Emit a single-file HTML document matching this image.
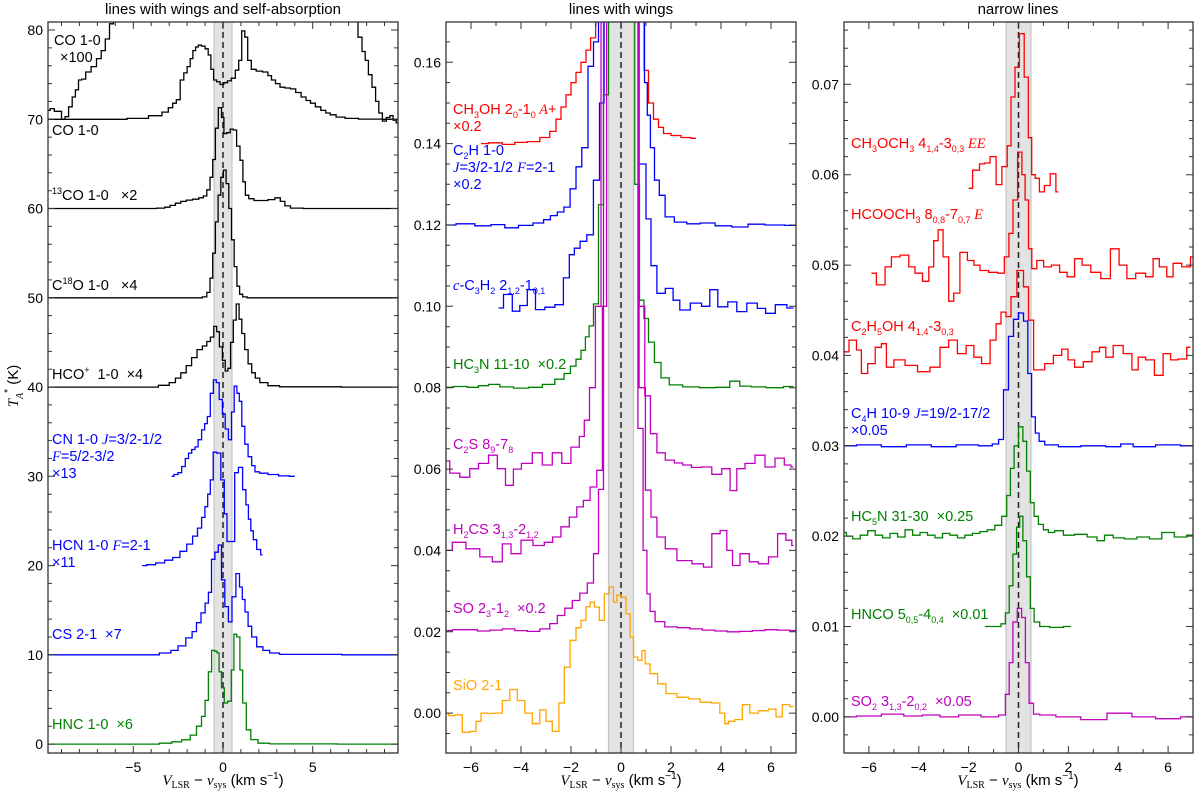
<!DOCTYPE html>
<html><head><meta charset="utf-8">
<style>
html,body{margin:0;padding:0;background:#fff;}
svg{display:block;font-family:"Liberation Sans","DejaVu Sans",sans-serif;}
#labels text{white-space:pre;}
</style></head>
<body>
<svg id="fig" width="1200" height="798" viewBox="0 0 1200 798" xmlns="http://www.w3.org/2000/svg">
<g id="layer"></g>
<g id="labels" font-size="14.5">
  <text x="223" y="14" text-anchor="middle" font-size="15" fill="#000">lines with wings and self-absorption</text>
  <text x="621" y="14" text-anchor="middle" font-size="15" fill="#000">lines with wings</text>
  <text x="1018" y="14" text-anchor="middle" font-size="15" fill="#000">narrow lines</text>

  <text transform="translate(18,386) rotate(-90)" text-anchor="middle" font-size="15"><tspan font-family="Liberation Serif,serif" font-style="italic">T</tspan><tspan font-size="10" dy="5" font-family="Liberation Serif,serif" font-style="italic">A</tspan><tspan font-size="10" dy="-12">*</tspan><tspan dy="7"> (K)</tspan></text>

  <g><text x="223" y="785" text-anchor="middle" font-size="15"><tspan font-family="Liberation Serif,serif" font-style="italic">V</tspan><tspan font-size="10" dy="3" font-family="Liberation Serif,serif">LSR</tspan><tspan dy="-3"> − </tspan><tspan font-family="Liberation Serif,serif" font-style="italic">v</tspan><tspan font-size="10" dy="3" font-family="Liberation Serif,serif">sys</tspan><tspan dy="-3"> (km s</tspan><tspan font-size="10" dy="-6">−1</tspan><tspan dy="6">)</tspan></text></g>
  <g><text x="621" y="785" text-anchor="middle" font-size="15"><tspan font-family="Liberation Serif,serif" font-style="italic">V</tspan><tspan font-size="10" dy="3" font-family="Liberation Serif,serif">LSR</tspan><tspan dy="-3"> − </tspan><tspan font-family="Liberation Serif,serif" font-style="italic">v</tspan><tspan font-size="10" dy="3" font-family="Liberation Serif,serif">sys</tspan><tspan dy="-3"> (km s</tspan><tspan font-size="10" dy="-6">−1</tspan><tspan dy="6">)</tspan></text></g>
  <g><text x="1018" y="785" text-anchor="middle" font-size="15"><tspan font-family="Liberation Serif,serif" font-style="italic">V</tspan><tspan font-size="10" dy="3" font-family="Liberation Serif,serif">LSR</tspan><tspan dy="-3"> − </tspan><tspan font-family="Liberation Serif,serif" font-style="italic">v</tspan><tspan font-size="10" dy="3" font-family="Liberation Serif,serif">sys</tspan><tspan dy="-3"> (km s</tspan><tspan font-size="10" dy="-6">−1</tspan><tspan dy="6">)</tspan></text></g>

  <g fill="#000">
    <text x="54" y="45">CO 1-0</text>
    <text x="60" y="62">×100</text>
    <text x="52" y="135">CO 1-0</text>
    <text x="52" y="200"><tspan font-size="9" dy="-6">13</tspan><tspan dy="6">CO 1-0   ×2</tspan></text>
    <text x="52" y="290">C<tspan font-size="9" dy="-6">18</tspan><tspan dy="6">O 1-0   ×4</tspan></text>
    <text x="52" y="379">HCO<tspan font-size="9" dy="-6">+</tspan><tspan dy="6">  1-0  ×4</tspan></text>
  </g>
  <g fill="#0000ff">
    <text x="52" y="444">CN 1-0 <tspan font-family="Liberation Serif,serif" font-style="italic">J</tspan>=3/2-1/2</text>
    <text x="52" y="461"><tspan font-family="Liberation Serif,serif" font-style="italic">F</tspan>=5/2-3/2</text>
    <text x="52" y="478">×13</text>
    <text x="52" y="550">HCN 1-0 <tspan font-family="Liberation Serif,serif" font-style="italic">F</tspan>=2-1</text>
    <text x="52" y="567">×11</text>
    <text x="52" y="639">CS 2-1  ×7</text>
  </g>
  <text x="52" y="729" fill="#008000">HNC 1-0  ×6</text>

  <g fill="#ff0000">
    <text x="453" y="114">CH<tspan font-size="9" dy="4">3</tspan><tspan dy="-4">OH 2</tspan><tspan font-size="9" dy="4">0</tspan><tspan dy="-4">-1</tspan><tspan font-size="9" dy="4">0</tspan><tspan dy="-4" font-family="Liberation Serif,serif" font-style="italic"> A</tspan><tspan>+</tspan></text>
    <text x="453" y="131">×0.2</text>
  </g>
  <g fill="#0000ff">
    <text x="453" y="155">C<tspan font-size="9" dy="4">2</tspan><tspan dy="-4">H 1-0</tspan></text>
    <text x="453" y="172"><tspan font-family="Liberation Serif,serif" font-style="italic">J</tspan>=3/2-1/2 <tspan font-family="Liberation Serif,serif" font-style="italic">F</tspan>=2-1</text>
    <text x="453" y="189">×0.2</text>
    <text x="453" y="290"><tspan font-family="Liberation Serif,serif" font-style="italic">c</tspan>-C<tspan font-size="9" dy="4">3</tspan><tspan dy="-4">H</tspan><tspan font-size="9" dy="4">2</tspan><tspan dy="-4"> 2</tspan><tspan font-size="9" dy="4">1,2</tspan><tspan dy="-4">-1</tspan><tspan font-size="9" dy="4">0,1</tspan></text>
  </g>
  <text x="453" y="369" fill="#008000">HC<tspan font-size="9" dy="4">3</tspan><tspan dy="-4">N 11-10  ×0.2</tspan></text>
  <g fill="#bf00bf">
    <text x="453" y="449">C<tspan font-size="9" dy="4">2</tspan><tspan dy="-4">S 8</tspan><tspan font-size="9" dy="4">9</tspan><tspan dy="-4">-7</tspan><tspan font-size="9" dy="4">8</tspan></text>
    <text x="453" y="534">H<tspan font-size="9" dy="4">2</tspan><tspan dy="-4">CS 3</tspan><tspan font-size="9" dy="4">1,3</tspan><tspan dy="-4">-2</tspan><tspan font-size="9" dy="4">1,2</tspan></text>
    <text x="453" y="613">SO 2<tspan font-size="9" dy="4">3</tspan><tspan dy="-4">-1</tspan><tspan font-size="9" dy="4">2</tspan><tspan dy="-4">  ×0.2</tspan></text>
  </g>
  <text x="453" y="690" fill="#ffa500">SiO 2-1</text>

  <g fill="#ff0000">
    <text x="851" y="148">CH<tspan font-size="9" dy="4">3</tspan><tspan dy="-4">OCH</tspan><tspan font-size="9" dy="4">3</tspan><tspan dy="-4"> 4</tspan><tspan font-size="9" dy="4">1,4</tspan><tspan dy="-4">-3</tspan><tspan font-size="9" dy="4">0,3</tspan><tspan dy="-4" font-family="Liberation Serif,serif" font-style="italic"> EE</tspan></text>
    <text x="851" y="219">HCOOCH<tspan font-size="9" dy="4">3</tspan><tspan dy="-4"> 8</tspan><tspan font-size="9" dy="4">0,8</tspan><tspan dy="-4">-7</tspan><tspan font-size="9" dy="4">0,7</tspan><tspan dy="-4" font-family="Liberation Serif,serif" font-style="italic"> E</tspan></text>
    <text x="851" y="331">C<tspan font-size="9" dy="4">2</tspan><tspan dy="-4">H</tspan><tspan font-size="9" dy="4">5</tspan><tspan dy="-4">OH 4</tspan><tspan font-size="9" dy="4">1,4</tspan><tspan dy="-4">-3</tspan><tspan font-size="9" dy="4">0,3</tspan></text>
  </g>
  <g fill="#0000ff">
    <text x="851" y="418">C<tspan font-size="9" dy="4">4</tspan><tspan dy="-4">H 10-9 </tspan><tspan font-family="Liberation Serif,serif" font-style="italic">J</tspan>=19/2-17/2</text>
    <text x="851" y="435">×0.05</text>
  </g>
  <g fill="#008000">
    <text x="851" y="521">HC<tspan font-size="9" dy="4">5</tspan><tspan dy="-4">N 31-30  ×0.25</tspan></text>
    <text x="851" y="619">HNCO 5<tspan font-size="9" dy="4">0,5</tspan><tspan dy="-4">-4</tspan><tspan font-size="9" dy="4">0,4</tspan><tspan dy="-4">  ×0.01</tspan></text>
  </g>
  <text x="851" y="706" fill="#bf00bf">SO<tspan font-size="9" dy="4">2</tspan><tspan dy="-4"> 3</tspan><tspan font-size="9" dy="4">1,3</tspan><tspan dy="-4">-2</tspan><tspan font-size="9" dy="4">0,2</tspan><tspan dy="-4">  ×0.05</tspan></text>
</g>
</svg>
<script>
// ---------- Panel 1 data: [velocity, T] ----------
const coX100 = [[-9.75,71.0],[-9.5,71.2],[-9.3,70.9],[-9.1,70.9],[-8.9,70.0],[-8.7,70.3],[-8.5,71.4],[-8.3,72.5],[-8.15,73.3],[-7.95,74.4],[-7.8,74.5],[-7.5,75.3],[-7.2,75.9],[-6.9,76.8],[-6.67,77.7],[-6.45,79.0],[-6.2,80.7],[-6.0,83],[-5.5,90],[7.2,90],[7.4,82],[7.64,79.2],[7.85,77.6],[8.0,76.6],[8.2,75.0],[8.4,73.6],[8.6,72.0],[8.76,70.7],[9.0,69.8],[9.2,70.2],[9.4,70.4],[9.55,69.9],[9.75,69.6]];
const coMain = [[-9.75,70],[-6,70],[-4.7,70.1],[-3.6,70.4],[-3.2,70.8],[-2.9,71.3],[-2.7,71.8],[-2.5,72.2],[-2.27,74.4],[-2.1,75.2],[-1.9,75.9],[-1.75,76.8],[-1.6,77.7],[-1.45,78.1],[-1.3,78.3],[-1.1,78.2],[-0.9,77.9],[-0.75,77.2],[-0.6,75.6],[-0.45,74.4],[-0.25,74.2],[-0.07,73.9],[0.15,74.1],[0.35,74.3],[0.57,74.6],[0.8,75.5],[0.95,76.6],[1.13,79.9],[1.3,79.2],[1.45,76.6],[1.7,75.6],[2.0,75.4],[2.4,75.3],[2.6,74.9],[2.8,74.4],[3.05,74.0],[3.3,73.6],[3.6,73.5],[3.9,73.4],[4.2,73.0],[4.5,72.5],[4.75,72.1],[5.0,71.8],[5.3,71.4],[5.6,71.0],[5.85,70.7],[6.1,70.5],[6.5,70.25],[7.1,70.1],[8,70.02],[9.75,70]];
const co13 = [[-9.75,60],[-4,60],[-3.4,60.05],[-3.1,60.15],[-2.8,60.35],[-2.5,60.6],[-2.2,60.8],[-1.9,60.95],[-1.5,61.05],[-1.2,61.2],[-1.0,61.4],[-0.8,62.1],[-0.65,63.5],[-0.5,65.5],[-0.35,69.0],[-0.17,71.3],[0.0,70.2],[0.1,68.4],[0.3,68.5],[0.5,68.9],[0.66,68.8],[0.85,67.0],[1.04,65.4],[1.18,63.0],[1.32,61.5],[1.55,61.1],[1.9,60.9],[2.3,60.9],[2.7,61.0],[3.08,61.2],[3.3,60.8],[3.6,60.3],[3.92,60.05],[5,60],[9.75,60]];
const c18o = [[-9.75,50],[-1.3,50.0],[-1.0,50.1],[-0.8,50.6],[-0.65,52.2],[-0.5,55.0],[-0.35,58.5],[-0.2,61.5],[-0.05,63.5],[0.1,64.3],[0.25,62.8],[0.4,60.0],[0.55,56.5],[0.7,53.5],[0.85,51.3],[1.0,50.4],[1.2,50.1],[1.5,50.0],[9.75,50]];
const hcop = [[-9.75,40],[-4,40],[-3.2,40.2],[-2.8,40.5],[-2.5,41.0],[-2.2,41.6],[-1.9,42.4],[-1.6,43.3],[-1.3,44.2],[-1.0,44.6],[-0.8,45.1],[-0.6,45.6],[-0.42,46.8],[-0.28,46.2],[-0.12,44.5],[0.05,43.0],[0.2,41.8],[0.35,42.1],[0.5,45.0],[0.65,47.5],[0.82,49.3],[0.97,47.6],[1.12,46.0],[1.3,44.2],[1.5,42.6],[1.7,41.6],[1.9,41.0],[2.2,40.5],[2.8,40.15],[3.5,40.03],[9.75,40]];
const cn = [[-2.86,30.0],[-2.6,30.2],[-2.4,30.4],[-2.2,31.1],[-2.0,32.0],[-1.84,32.6],[-1.65,33.0],[-1.47,33.3],[-1.3,34.1],[-1.09,35.2],[-0.95,35.9],[-0.8,36.7],[-0.62,39.3],[-0.45,40.8],[-0.3,40.5],[-0.12,38.6],[0.05,37.0],[0.2,35.3],[0.4,34.1],[0.55,37.2],[0.7,40.1],[0.85,39.3],[0.97,38.4],[1.13,35.6],[1.3,33.6],[1.5,32.2],[1.7,31.2],[1.87,30.5],[2.2,30.35],[2.8,30.2],[3.4,30.05],[4.0,30.0]];
const hcn = [[-4.5,20.0],[-4.0,20.1],[-3.5,20.3],[-3.0,20.6],[-2.6,20.9],[-2.2,21.6],[-1.84,22.4],[-1.55,23.3],[-1.29,24.2],[-1.1,25.4],[-0.92,26.6],[-0.78,28.0],[-0.64,29.6],[-0.45,32.7],[-0.25,32.6],[0.0,29.6],[0.15,25.8],[0.3,22.7],[0.56,22.7],[0.74,30.4],[0.98,31.0],[1.2,28.5],[1.35,26.8],[1.48,25.2],[1.62,23.9],[1.76,22.9],[2.0,21.8],[2.2,21.2]];
const cs = [[-9.75,10],[-4,10],[-3.1,10.2],[-2.7,10.5],[-2.3,11.0],[-1.84,11.9],[-1.6,12.6],[-1.35,13.6],[-1.1,14.7],[-0.9,15.8],[-0.73,17.0],[-0.55,20.7],[-0.35,21.5],[-0.17,22.3],[0.0,18.4],[0.2,15.4],[0.4,13.7],[0.6,16.5],[0.84,19.1],[1.0,17.6],[1.15,16.2],[1.3,14.8],[1.5,13.2],[1.7,12.0],[2.05,10.9],[2.4,10.5],[2.8,10.2],[3.5,10.05],[9.75,10]];
const hnc = [[-9.75,0],[-4,0],[-3.1,0.1],[-2.6,0.25],[-2.0,0.48],[-1.65,1.0],[-1.3,2.0],[-1.1,3.1],[-0.9,4.9],[-0.73,8.1],[-0.54,10.5],[-0.4,10.4],[-0.26,10.2],[-0.17,8.1],[0.0,6.3],[0.14,4.6],[0.37,4.8],[0.55,8.3],[0.66,12.3],[0.88,12.0],[1.0,8.3],[1.2,4.6],[1.4,1.6],[1.7,0.5],[2.2,0.1],[3,0.02],[9.75,0]];

// ---------- Panel 2 data ----------
const ch3oh = [[-5.6,0.1400],[-5.0,0.1402],[-4.5,0.1398],[-4.0,0.1403],[-3.5,0.1405],[-3.0,0.1415],[-2.7,0.1430],[-2.5,0.1460],[-2.3,0.1490],[-2.1,0.1520],[-1.9,0.1550],[-1.7,0.1575],[-1.5,0.1600],[-1.3,0.1630],[-1.13,0.1660],[-0.9,0.19],[-0.5,0.25],[0.5,0.25],[0.85,0.19],[1.0,0.158],[1.2,0.150],[1.4,0.1460],[1.6,0.1440],[1.8,0.1425],[2.2,0.1420],[2.6,0.1415],[3.0,0.1413]];
const c2h = [[-7.0,0.1200],[-6.2,0.1203],[-5.5,0.1198],[-4.9,0.1201],[-4.4,0.1193],[-3.8,0.1199],[-3.24,0.1205],[-2.95,0.1213],[-2.7,0.1223],[-2.4,0.1232],[-2.17,0.1244],[-1.9,0.1289],[-1.7,0.1343],[-1.44,0.1390],[-1.2,0.1590],[-1.0,0.1650],[-0.8,0.2],[0.5,0.25],[0.88,0.19],[1.0,0.155],[1.1,0.147],[1.25,0.139],[1.43,0.131],[1.63,0.1273],[1.9,0.1220],[2.36,0.1207],[2.9,0.1203],[3.43,0.1205],[4.1,0.1198],[4.76,0.1195],[5.4,0.1202],[6.1,0.1200],[7.0,0.1199]];
const c3h2 = [[-4.9,0.0996],[-4.5,0.1029],[-4.2,0.0988],[-3.9,0.1002],[-3.6,0.1041],[-3.24,0.0992],[-2.85,0.0998],[-2.44,0.1004],[-2.17,0.1070],[-1.97,0.1127],[-1.77,0.1143],[-1.5,0.1160],[-1.24,0.1176],[-0.97,0.1310],[-0.75,0.150],[-0.6,0.19],[0.5,0.2],[0.9,0.135],[1.1,0.1215],[1.3,0.1100],[1.57,0.1032],[1.97,0.1044],[2.2,0.1015],[2.5,0.0991],[3.04,0.1008],[3.4,0.1000],[3.7,0.1041],[4.04,0.0999],[4.5,0.1011],[4.76,0.0987],[5.3,0.1008],[5.6,0.0995],[5.97,0.0983],[6.37,0.1004],[6.9,0.0996]];
const hc3n = [[-7.0,0.0801],[-6.4,0.0803],[-5.9,0.0801],[-5.5,0.0805],[-5.1,0.0808],[-4.6,0.0802],[-4.0,0.0799],[-3.4,0.0801],[-2.9,0.0808],[-2.4,0.0821],[-2.15,0.0835],[-1.9,0.0853],[-1.7,0.0870],[-1.5,0.0892],[-1.35,0.0925],[-1.2,0.0952],[-1.0,0.1006],[-0.8,0.125],[-0.6,0.152],[-0.4,0.25],[0.0,0.3],[0.45,0.25],[0.65,0.13],[0.83,0.1015],[1.0,0.0970],[1.2,0.0912],[1.47,0.0862],[1.73,0.0824],[2.13,0.0807],[2.8,0.0802],[3.47,0.0800],[4.1,0.0801],[4.6,0.0816],[4.9,0.0804],[5.5,0.0802],[6.1,0.0800],[6.9,0.0803]];
const c2s = [[-7.0,0.0620],[-6.7,0.0590],[-6.2,0.0580],[-5.9,0.0601],[-5.5,0.0614],[-5.1,0.0634],[-4.8,0.0601],[-4.44,0.0560],[-4.17,0.0600],[-3.8,0.0614],[-3.3,0.0640],[-3.0,0.0610],[-2.5,0.0640],[-2.24,0.0614],[-1.77,0.0654],[-1.57,0.0680],[-1.37,0.0720],[-1.15,0.0800],[-0.9,0.100],[-0.7,0.2],[0.6,0.2],[0.85,0.100],[1.05,0.0780],[1.3,0.0687],[1.57,0.0640],[1.97,0.0622],[2.3,0.0615],[2.63,0.0610],[3.0,0.0604],[3.43,0.0605],[3.83,0.0587],[4.23,0.0601],[4.5,0.0547],[4.76,0.0601],[5.16,0.0614],[5.56,0.0634],[5.96,0.0605],[6.36,0.0627],[6.7,0.0610],[6.9,0.0605]];
const h2cs = [[-7.0,0.0400],[-6.5,0.0420],[-5.9,0.0404],[-5.4,0.0384],[-4.9,0.0372],[-4.6,0.0416],[-4.2,0.0392],[-3.8,0.0425],[-3.24,0.0412],[-2.9,0.0420],[-2.57,0.0433],[-2.24,0.0458],[-1.9,0.0482],[-1.64,0.0507],[-1.37,0.0523],[-1.1,0.0556],[-0.84,0.0597],[-0.65,0.100],[-0.5,0.25],[0.6,0.25],[0.85,0.080],[1.1,0.0548],[1.3,0.0482],[1.57,0.0433],[1.97,0.0404],[2.5,0.0375],[3.17,0.0367],[3.43,0.0359],[3.83,0.0441],[4.1,0.0449],[4.36,0.0400],[4.56,0.0363],[4.96,0.0392],[5.3,0.0372],[5.7,0.0367],[6.1,0.0384],[6.43,0.0441],[6.76,0.0425],[6.9,0.0412]];
const so = [[-7.0,0.0203],[-6.5,0.0205],[-6.0,0.0205],[-5.5,0.0202],[-5.0,0.0204],[-4.5,0.0207],[-4.0,0.0203],[-3.5,0.0201],[-3.0,0.0207],[-2.7,0.0220],[-2.4,0.0240],[-2.1,0.0258],[-1.8,0.0277],[-1.5,0.0295],[-1.2,0.0320],[-1.0,0.0392],[-0.8,0.0550],[-0.6,0.25],[0.55,0.25],[0.8,0.070],[0.97,0.040],[1.1,0.0293],[1.23,0.0250],[1.5,0.0225],[2.0,0.0212],[2.5,0.0210],[3.0,0.0207],[3.5,0.0204],[4.0,0.0202],[4.5,0.0200],[5.0,0.0201],[5.5,0.0203],[6.0,0.0205],[6.5,0.0204],[7.0,0.0203]];
const sio = [[-7.0,0.0000],[-6.8,-0.0006],[-6.5,-0.0004],[-6.2,-0.0047],[-5.9,-0.0045],[-5.7,-0.0020],[-5.5,0.0000],[-5.2,-0.0001],[-4.9,0.0000],[-4.6,0.0031],[-4.3,0.0058],[-4.0,0.0031],[-3.7,0.0000],[-3.4,-0.0026],[-3.1,0.0008],[-2.9,-0.0020],[-2.6,-0.0045],[-2.37,0.0025],[-2.17,0.0113],[-1.9,0.0179],[-1.7,0.0210],[-1.5,0.0228],[-1.3,0.0262],[-1.17,0.0273],[-0.97,0.0261],[-0.77,0.0228],[-0.57,0.0293],[-0.37,0.0310],[-0.24,0.0273],[-0.1,0.0290],[0.1,0.0285],[0.3,0.0244],[0.43,0.0187],[0.57,0.0138],[0.77,0.0130],[0.9,0.0154],[1.03,0.0121],[1.3,0.0097],[1.63,0.0072],[1.97,0.0048],[2.5,0.0039],[2.9,0.0035],[3.43,0.0027],[3.8,0.0025],[4.1,0.0000],[4.2,-0.0026],[4.4,-0.0020],[4.7,-0.0016],[5.0,0.0021],[5.3,0.0000],[5.7,0.0006],[6.1,0.0010],[6.3,-0.0009],[6.6,0.0021],[6.9,0.0016]];

// ---------- Panel 3 data ----------
const ch3och3 = [[-2.0,0.0585],[-1.68,0.0605],[-1.45,0.0612],[-1.28,0.0613],[-1.0,0.0620],[-0.8,0.0589],[-0.53,0.0609],[-0.38,0.0632],[-0.22,0.0686],[-0.06,0.0719],[0.13,0.0756],[0.33,0.0708],[0.46,0.0641],[0.6,0.0600],[0.74,0.0596],[0.94,0.0581],[1.14,0.0588],[1.4,0.0601],[1.6,0.0581]];
const hcooch3 = [[-5.9,0.0491],[-5.5,0.0478],[-5.2,0.0498],[-5.0,0.0509],[-4.5,0.0511],[-4.3,0.0498],[-4.0,0.0491],[-3.7,0.0482],[-3.5,0.0498],[-3.3,0.0527],[-3.15,0.0539],[-2.9,0.0509],[-2.7,0.0460],[-2.5,0.0469],[-2.2,0.0514],[-1.9,0.0505],[-1.68,0.0500],[-1.41,0.0494],[-1.0,0.0492],[-0.67,0.0491],[-0.47,0.0509],[-0.3,0.0535],[-0.14,0.0572],[0.07,0.0625],[0.2,0.0600],[0.33,0.0572],[0.47,0.0518],[0.6,0.0496],[0.87,0.0505],[1.14,0.0498],[1.5,0.0500],[1.8,0.0492],[2.1,0.0487],[2.4,0.0507],[2.7,0.0500],[3.1,0.0492],[3.5,0.0485],[3.87,0.0518],[4.2,0.0500],[4.5,0.0485],[4.9,0.0491],[5.3,0.0487],[5.5,0.0507],[5.8,0.0498],[6.1,0.0487],[6.3,0.0502],[6.8,0.0498],[7.0,0.0509]];
const c2h5oh = [[-7.0,0.0404],[-6.6,0.0417],[-6.4,0.0406],[-6.2,0.0380],[-5.9,0.0391],[-5.6,0.0409],[-5.4,0.0413],[-5.2,0.0387],[-4.8,0.0395],[-4.3,0.0389],[-3.8,0.0382],[-3.3,0.0387],[-3.0,0.0409],[-2.6,0.0417],[-2.3,0.0402],[-1.9,0.0411],[-1.68,0.0398],[-1.28,0.0391],[-1.0,0.0417],[-0.8,0.0435],[-0.6,0.0448],[-0.4,0.0443],[-0.2,0.0465],[0.07,0.0494],[0.33,0.0476],[0.47,0.0439],[0.74,0.0384],[0.9,0.0384],[1.2,0.0391],[1.6,0.0400],[1.87,0.0407],[2.1,0.0395],[2.4,0.0387],[2.8,0.0393],[3.1,0.0404],[3.4,0.0409],[3.6,0.0398],[4.0,0.0411],[4.4,0.0402],[4.7,0.0384],[4.9,0.0398],[5.3,0.0395],[5.6,0.0378],[6.0,0.0402],[6.2,0.0395],[6.6,0.0396],[6.9,0.0409]];
const c4h = [[-7.0,0.0300],[-6.0,0.0301],[-5.0,0.0299],[-4.0,0.0301],[-3.0,0.0299],[-2.0,0.0301],[-1.2,0.0300],[-0.9,0.0302],[-0.7,0.0307],[-0.5,0.0362],[-0.3,0.0421],[-0.1,0.0440],[0.1,0.0447],[0.3,0.0438],[0.45,0.0380],[0.6,0.0332],[0.75,0.0314],[0.9,0.0305],[1.2,0.0301],[2.0,0.0299],[3.0,0.0300],[4.0,0.0299],[4.2,0.0302],[5.0,0.0299],[6.0,0.0301],[7.0,0.0300]];
const hc5n = [[-7.0,0.0204],[-6.8,0.0200],[-6.5,0.0197],[-6.2,0.0201],[-5.9,0.0206],[-5.6,0.0201],[-5.3,0.0198],[-5.0,0.0203],[-4.7,0.0199],[-4.4,0.0207],[-4.1,0.0201],[-3.8,0.0204],[-3.5,0.0201],[-3.2,0.0198],[-2.9,0.0203],[-2.6,0.0201],[-2.3,0.0198],[-2.0,0.0201],[-1.7,0.0203],[-1.4,0.0205],[-1.1,0.0207],[-0.8,0.0212],[-0.55,0.0222],[-0.4,0.0245],[-0.25,0.0275],[-0.1,0.0300],[0.1,0.0321],[0.25,0.0305],[0.4,0.0272],[0.55,0.0237],[0.7,0.0222],[0.9,0.0213],[1.1,0.0207],[1.3,0.0204],[1.6,0.0206],[2.0,0.0201],[2.5,0.0202],[3.0,0.0199],[3.3,0.0195],[3.6,0.0201],[4.0,0.0198],[4.5,0.0197],[5.0,0.0199],[5.5,0.0197],[6.0,0.0204],[6.5,0.0199],[7.0,0.0201]];
const hnco = [[-1.34,0.0100],[-0.8,0.0100],[-0.6,0.0103],[-0.45,0.0115],[-0.3,0.0145],[-0.15,0.0180],[0.0,0.0210],[0.1,0.0222],[0.25,0.0195],[0.4,0.0155],[0.55,0.0120],[0.7,0.0105],[1.0,0.0100],[1.5,0.0099],[2.1,0.0100]];
const so2 = [[-7.0,0.0000],[-6.0,0.0001],[-5.0,0.0003],[-4.2,0.0001],[-3.5,0.0002],[-2.8,0.0000],[-2.0,0.0002],[-1.0,0.0000],[-0.6,0.0002],[-0.45,0.0025],[-0.3,0.0060],[-0.15,0.0105],[0.05,0.0120],[0.2,0.0110],[0.35,0.0060],[0.5,0.0015],[0.7,0.0003],[1.0,0.0002],[2.0,0.0000],[3.0,-0.0003],[4.1,0.0004],[5.0,0.0000],[6.0,-0.0002],[7.0,0.0000]];

// tick labels
const p1XTicks = [-5, 0, 5];
const p1YTicks = [0, 10, 20, 30, 40, 50, 60, 70, 80];
const p2XTicks = [-6, -4, -2, 0, 2, 4, 6];
const p2YTicks = [0.00, 0.02, 0.04, 0.06, 0.08, 0.10, 0.12, 0.14, 0.16];
const p3XTicks = [-6, -4, -2, 0, 2, 4, 6];
const p3YTicks = [0.00, 0.01, 0.02, 0.03, 0.04, 0.05, 0.06, 0.07];

const NS = "http://www.w3.org/2000/svg";
const layer = document.getElementById('layer');

function panel(id, L, R, T, B, xmin, xmax, ymin, ymax, xTicks, xMinor, yTicks, yMinor, yFmt, series) {
  const sx = v => L + (v - xmin) / (xmax - xmin) * (R - L);
  const sy = t => B - (t - ymin) / (ymax - ymin) * (B - T);
  const g = document.createElementNS(NS, 'g');
  
  
  layer.appendChild(g);
  const cp = document.createElementNS(NS, 'clipPath');
  cp.setAttribute('id', id + '-clip');
  const cr = document.createElementNS(NS, 'rect');
  cr.setAttribute('x', L); cr.setAttribute('y', T); cr.setAttribute('width', R - L); cr.setAttribute('height', B - T);
  cp.appendChild(cr); g.appendChild(cp);
  const band = document.createElementNS(NS, 'rect');
  
  
  band.setAttribute('x', sx(-0.5)); band.setAttribute('y', T);
  band.setAttribute('width', sx(0.5) - sx(-0.5)); band.setAttribute('height', B - T);
  band.setAttribute('fill', '#e3e3e3'); band.setAttribute('stroke', '#c4c4c4'); band.setAttribute('stroke-width', '1.2');
  g.appendChild(band);
  const dl = document.createElementNS(NS, 'line');
  
  
  dl.setAttribute('x1', sx(0)); dl.setAttribute('x2', sx(0)); dl.setAttribute('y1', T); dl.setAttribute('y2', B);
  dl.setAttribute('stroke', '#222'); dl.setAttribute('stroke-width', '1.5'); dl.setAttribute('stroke-dasharray', '6,4');
  g.appendChild(dl);
  const sg = document.createElementNS(NS, 'g');
  sg.setAttribute('clip-path', 'url(#' + id + '-clip)');
  g.appendChild(sg);
  series.forEach(s => {
    const pts = s.data;
    let d = 'M' + sx(pts[0][0]).toFixed(1) + ',' + sy(pts[0][1]).toFixed(1);
    for (let i = 1; i < pts.length; i++) {
      const xm = sx((pts[i - 1][0] + pts[i][0]) / 2);
      d += 'H' + xm.toFixed(1) + 'V' + sy(pts[i][1]).toFixed(1);
    }
    d += 'H' + sx(pts[pts.length - 1][0]).toFixed(1);
    const p = document.createElementNS(NS, 'path');
    p.setAttribute('d', d);
    p.setAttribute('fill', 'none');
    p.setAttribute('stroke', s.color);
    p.setAttribute('stroke-width', '1.3');
    
    
    sg.appendChild(p);
  });
  const fr = document.createElementNS(NS, 'rect');
  
  
  fr.setAttribute('x', L); fr.setAttribute('y', T); fr.setAttribute('width', R - L); fr.setAttribute('height', B - T);
  fr.setAttribute('fill', 'none'); fr.setAttribute('stroke', '#333'); fr.setAttribute('stroke-width', '1.3');
  g.appendChild(fr);
  const tk = document.createElementNS(NS, 'path');
  let td = '';
  const xs = Math.ceil(xmin / xMinor) * xMinor;
  for (let v = xs; v <= xmax + 1e-9; v += xMinor) {
    const isMaj = xTicks.some(t => Math.abs(t - v) < 1e-6);
    const len = isMaj ? 7 : 4, x = sx(v).toFixed(1);
    td += `M${x},${B}v${-len}M${x},${T}v${len}`;
  }
  const ys = Math.ceil(ymin / yMinor - 1e-6) * yMinor;
  for (let t = ys; t <= ymax + 1e-9; t += yMinor) {
    const isMaj = yTicks.some(u => Math.abs(u - t) < 1e-9);
    const len = isMaj ? 7 : 4, y = sy(t).toFixed(1);
    td += `M${L},${y}h${len}M${R},${y}h${-len}`;
  }
  tk.setAttribute('d', td); tk.setAttribute('stroke', '#333'); tk.setAttribute('stroke-width', '1');
  
  
  g.appendChild(tk);
  xTicks.forEach(v => {
    const t = document.createElementNS(NS, 'text');
    t.setAttribute('x', sx(v)); t.setAttribute('y', B + 19);
    t.setAttribute('text-anchor', 'middle'); t.setAttribute('font-size', '14');
    t.textContent = v < 0 ? '−' + Math.abs(v) : String(v);
    
    
    g.appendChild(t);
  });
  yTicks.forEach(u => {
    const t = document.createElementNS(NS, 'text');
    t.setAttribute('x', L - 5); t.setAttribute('y', sy(u) + 5);
    t.setAttribute('text-anchor', 'end'); t.setAttribute('font-size', '14');
    t.textContent = yFmt(u);
    
    
    g.appendChild(t);
  });
}

panel('panel-wings-self-absorption', 48, 398, 22, 753, -9.75, 9.75, -1.0, 80.9, p1XTicks, 1, p1YTicks, 2, u => String(u), [
  {name: 'co-x100-spectrum', color: '#000', data: coX100},
  {name: 'co-spectrum', color: '#000', data: coMain},
  {name: '13co-spectrum', color: '#000', data: co13},
  {name: 'c18o-spectrum', color: '#000', data: c18o},
  {name: 'hcop-spectrum', color: '#000', data: hcop},
  {name: 'cn-spectrum', color: '#0000ff', data: cn},
  {name: 'hcn-spectrum', color: '#0000ff', data: hcn},
  {name: 'cs-spectrum', color: '#0000ff', data: cs},
  {name: 'hnc-spectrum', color: '#008000', data: hnc}
]);
panel('panel-wings', 446, 796, 22, 753, -7, 7, -0.0098, 0.1699, p2XTicks, 1, p2YTicks, 0.005, u => u.toFixed(2), [
  {name: 'ch3oh-spectrum', color: '#ff0000', data: ch3oh},
  {name: 'c2h-spectrum', color: '#0000ff', data: c2h},
  {name: 'c3h2-spectrum', color: '#0000ff', data: c3h2},
  {name: 'hc3n-spectrum', color: '#008000', data: hc3n},
  {name: 'c2s-spectrum', color: '#bf00bf', data: c2s},
  {name: 'h2cs-spectrum', color: '#bf00bf', data: h2cs},
  {name: 'so-spectrum', color: '#bf00bf', data: so},
  {name: 'sio-spectrum', color: '#ffa500', data: sio}
]);
panel('panel-narrow', 844, 1193, 22, 753, -7, 7, -0.0040, 0.0769, p3XTicks, 1, p3YTicks, 0.002, u => u.toFixed(2), [
  {name: 'ch3och3-spectrum', color: '#ff0000', data: ch3och3},
  {name: 'hcooch3-spectrum', color: '#ff0000', data: hcooch3},
  {name: 'c2h5oh-spectrum', color: '#ff0000', data: c2h5oh},
  {name: 'c4h-spectrum', color: '#0000ff', data: c4h},
  {name: 'hc5n-spectrum', color: '#008000', data: hc5n},
  {name: 'hnco-spectrum', color: '#008000', data: hnco},
  {name: 'so2-spectrum', color: '#bf00bf', data: so2}
]);
</script>
</body></html>
